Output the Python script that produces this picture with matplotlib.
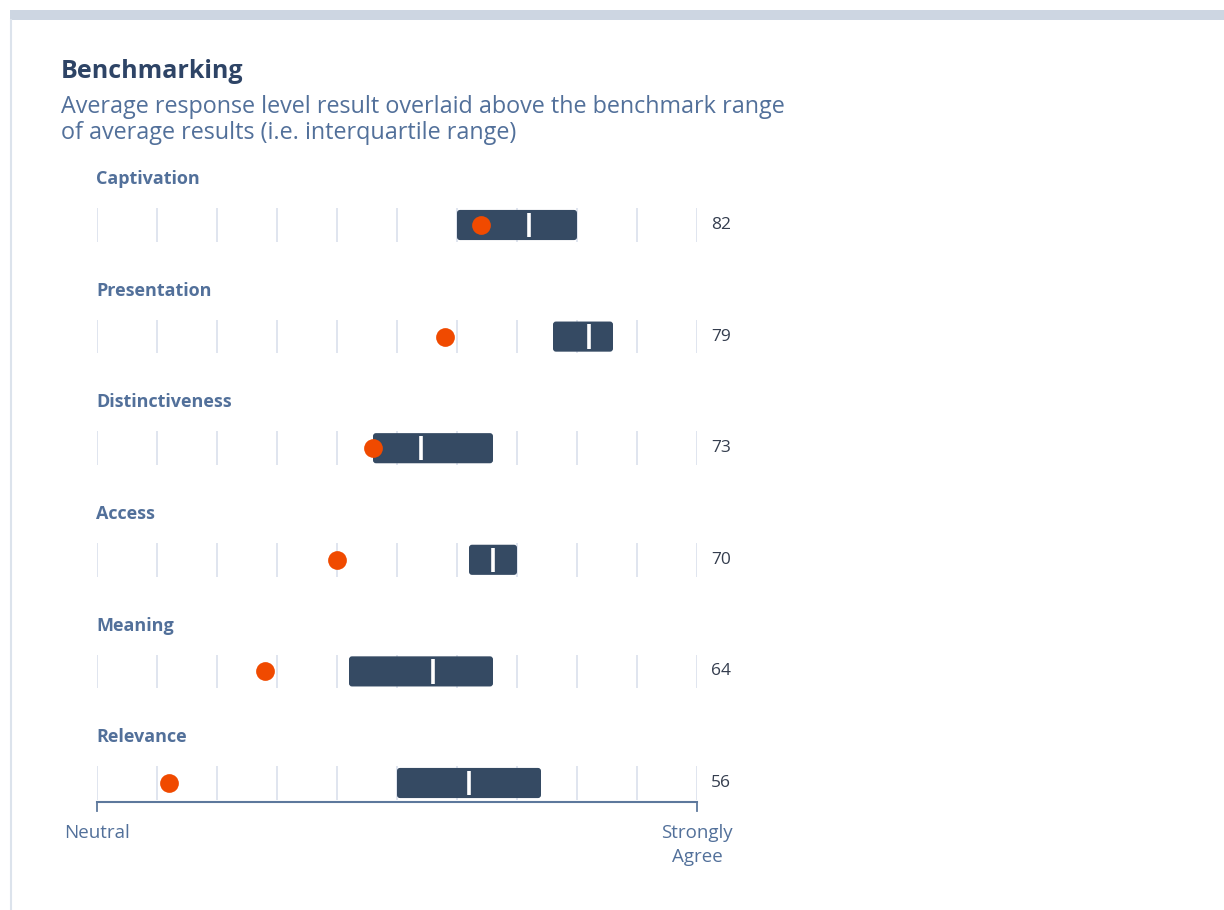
import matplotlib
matplotlib.use("Agg")
import matplotlib.pyplot as plt
from matplotlib.patches import FancyBboxPatch, Rectangle
from matplotlib.lines import Line2D

plt.rcParams['font.family'] = ['Open Sans', 'DejaVu Sans']

# Data
categories = ["Captivation", "Presentation", "Distinctiveness", "Access", "Meaning", "Relevance"]
scores = [82, 79, 73, 70, 64, 56]
q1 = [80, 88, 73, 81, 71, 75]
median = [86, 91, 77, 83, 78, 81]
q3 = [90, 93, 83, 85, 83, 87]
x_min, x_max = 50, 100
grid_ticks = list(range(50, 101, 5))
end_labels = ["Neutral", "Strongly\nAgree"]

# Colours
bar_col = "#354A63"
dot_col = "#F04A00"
title_col = "#2E4466"
sub_col = "#52709A"
grid_col = "#DDE3EE"
axis_col = "#5D789C"
value_col = "#343D4E"

W, H = 1224, 910
fig = plt.figure(figsize=(W / 100, H / 100), dpi=100)
fig.patch.set_facecolor("white")

# Card frame: top band and left edge
fig.add_artist(Rectangle((10 / W, 1 - 20 / H), 1 - 10 / W, 10 / H,
                         transform=fig.transFigure, color="#CDD6E2", lw=0))
fig.add_artist(Line2D([11 / W, 11 / W], [0, 1 - 20 / H], transform=fig.transFigure,
                      color="#DCE3EC", lw=1.5))

# Title and subtitle
fig.text(61 / W, 1 - 71 / H, "Benchmarking", fontsize=18, fontweight="bold",
         color=title_col, va="center", ha="left")
fig.text(61 / W, 1 - 120 / H,
         "Average response level result overlaid above the benchmark range\nof average results (i.e. interquartile range)",
         fontsize=16.8, color=sub_col, va="center", ha="left", linespacing=1.08)

# Plot area: x 50..100 over px 97..697, rows spaced ~111.6 px
left_px, right_px = 97, 697
top_px, bottom_px = 160, 802
ax = fig.add_axes([left_px / W, 1 - bottom_px / H, (right_px - left_px) / W, (bottom_px - top_px) / H])
row_px = 111.6
first_row_px = 225
y_top = -(first_row_px - top_px) / row_px
y_bot = (len(categories) - 1) + (bottom_px - (first_row_px + row_px * (len(categories) - 1))) / row_px
ax.set_xlim(x_min, x_max)
ax.set_ylim(y_bot, y_top)
ax.axis("off")

px_x = (right_px - left_px) / (x_max - x_min)  # px per x unit
aspect = px_x / row_px

for i, cat in enumerate(categories):
    # grid ticks
    for t in grid_ticks:
        ax.plot([t, t], [i - 0.15, i + 0.15], color=grid_col, lw=1.3, zorder=1,
                solid_capstyle="butt")
    # interquartile bar
    bh = 0.27
    box = FancyBboxPatch((q1[i], i - bh / 2), q3[i] - q1[i], bh,
                         boxstyle="round,pad=0,rounding_size=0.25",
                         mutation_aspect=aspect, fc=bar_col, ec="none", zorder=2)
    ax.add_patch(box)
    # median
    ax.plot([median[i], median[i]], [i - 0.11, i + 0.11], color="white", lw=2.6,
            solid_capstyle="butt", zorder=3)
    # score dot
    ax.plot(scores[i], i, "o", ms=13.5, color=dot_col, mec="none", zorder=4)
    # category label
    ax.text(x_min - 1 / px_x, i - 0.41, cat, fontsize=13, fontweight="bold", color=sub_col,
            ha="left", va="center", clip_on=False)
    # value label
    ax.text(x_max + 14 / px_x, i, str(scores[i]), fontsize=12.5, color=value_col,
            ha="left", va="center", clip_on=False)

# baseline with end ticks
ax.plot([x_min, x_max], [y_bot, y_bot], color=axis_col, lw=1.5, clip_on=False, zorder=2)
for xv in (x_min, x_max):
    ax.plot([xv, xv], [y_bot, y_bot + 9 / row_px], color=axis_col, lw=1.3, clip_on=False)

ax.text(x_min, y_bot + 22 / row_px, end_labels[0], fontsize=13.5, color=sub_col,
        ha="center", va="top", clip_on=False)
ax.text(x_max, y_bot + 22 / row_px, end_labels[1], fontsize=13.5, color=sub_col,
        ha="center", va="top", clip_on=False, linespacing=1.4)

fig.savefig("out.png", dpi=100, facecolor="white")
